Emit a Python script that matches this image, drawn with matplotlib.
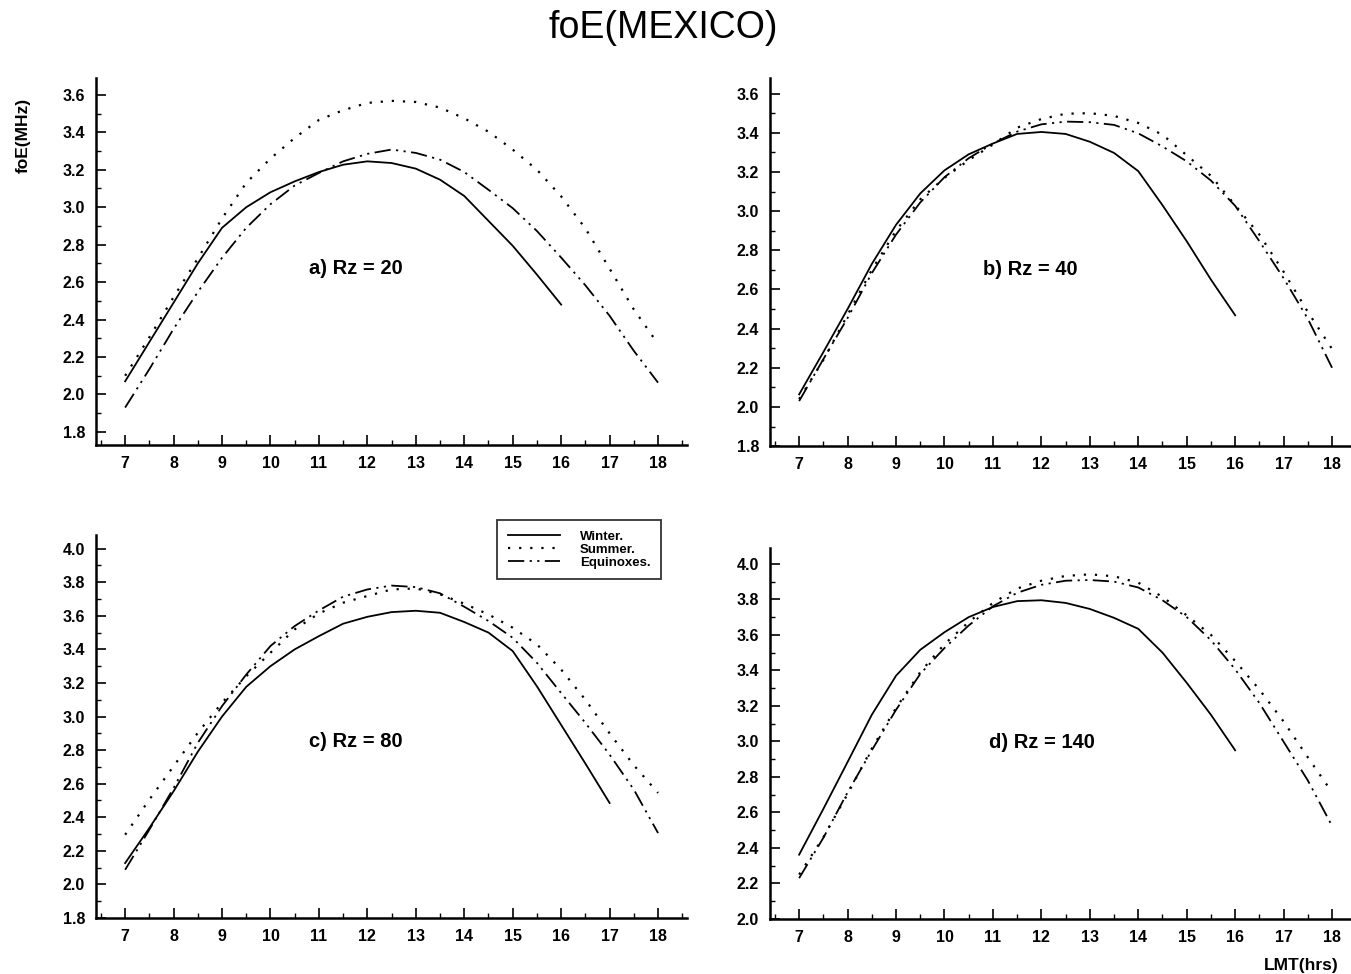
import matplotlib
matplotlib.use('Agg')
import matplotlib.pyplot as plt
from matplotlib.ticker import MultipleLocator, FormatStrFormatter
from matplotlib.lines import Line2D

plt.rcParams['font.family'] = ['Liberation Sans', 'DejaVu Sans']

# --- DATA (every half hour) ---
hours = [7, 7.5, 8, 8.5, 9, 9.5, 10, 10.5, 11, 11.5, 12, 12.5,
         13, 13.5, 14, 14.5, 15, 15.5, 16, 16.5, 17, 17.5, 18]
hour_ticks = [7, 8, 9, 10, 11, 12, 13, 14, 15, 16, 17, 18]

# a) Rz = 20
a_winter = [2.07, 2.28, 2.49, 2.70, 2.89, 3.0, 3.08, 3.138, 3.188, 3.227,
            3.245, 3.236, 3.206, 3.147, 3.06, 2.927, 2.794, 2.64, 2.48]
a_summer = [2.10, 2.305, 2.52, 2.726, 2.94, 3.13, 3.26, 3.37, 3.466, 3.518,
            3.557, 3.568, 3.562, 3.532, 3.475, 3.403, 3.308, 3.20, 3.058,
            2.887, 2.672, 2.454, 2.27]
a_equinox = [1.93, 2.135, 2.35, 2.547, 2.73, 2.89, 3.016, 3.116, 3.183, 3.245,
             3.285, 3.308, 3.29, 3.254, 3.188, 3.093, 2.995, 2.873, 2.731,
             2.583, 2.42, 2.233, 2.063]

# b) Rz = 40
b_winter = [2.064, 2.28, 2.50, 2.73, 2.93, 3.09, 3.208, 3.29, 3.345, 3.394,
            3.404, 3.394, 3.354, 3.297, 3.204, 3.03, 2.846, 2.65, 2.468]
b_summer = [2.04, 2.24, 2.47, 2.70, 2.90, 3.06, 3.17, 3.26, 3.34, 3.426,
            3.47, 3.497, 3.50, 3.486, 3.45, 3.39, 3.285, 3.18, 3.03,
            2.88, 2.69, 2.485, 2.296]
b_equinox = [2.03, 2.244, 2.454, 2.683, 2.88, 3.044, 3.173, 3.27, 3.345, 3.406,
             3.443, 3.457, 3.454, 3.44, 3.397, 3.33, 3.254, 3.156, 3.027,
             2.846, 2.657, 2.45, 2.20]

# c) Rz = 80
c_winter = [2.127, 2.336, 2.555, 2.79, 3.00, 3.177, 3.30, 3.40, 3.479, 3.553,
            3.594, 3.622, 3.63, 3.618, 3.563, 3.50, 3.39, 3.18, 2.95,
            2.72, 2.485]
c_summer = [2.296, 2.505, 2.704, 2.903, 3.082, 3.24, 3.38, 3.519, 3.614, 3.678,
            3.718, 3.757, 3.763, 3.728, 3.672, 3.608, 3.529, 3.43, 3.28,
            3.10, 2.90, 2.71, 2.545]
c_equinox = [2.087, 2.326, 2.574, 2.843, 3.062, 3.25, 3.42, 3.539, 3.632, 3.714,
             3.757, 3.78, 3.771, 3.734, 3.654, 3.569, 3.469, 3.32, 3.14,
             2.962, 2.773, 2.565, 2.306]

# d) Rz = 140
d_winter = [2.362, 2.62, 2.884, 3.15, 3.37, 3.516, 3.615, 3.70, 3.757, 3.79,
            3.795, 3.78, 3.746, 3.696, 3.634, 3.50, 3.33, 3.15, 2.95]
d_summer = [2.25, 2.46, 2.704, 2.96, 3.188, 3.39, 3.548, 3.672, 3.78, 3.861,
            3.905, 3.932, 3.941, 3.93, 3.894, 3.814, 3.71, 3.60, 3.453,
            3.292, 3.112, 2.91, 2.713]
d_equinox = [2.23, 2.457, 2.713, 2.95, 3.178, 3.38, 3.526, 3.653, 3.761, 3.837,
             3.882, 3.905, 3.909, 3.90, 3.867, 3.795, 3.70, 3.57, 3.406,
             3.216, 2.998, 2.78, 2.524]

panel_labels = ['a) Rz = 20', 'b) Rz = 40', 'c) Rz = 80', 'd) Rz = 140']
season_labels = ['Winter.', 'Summer.', 'Equinoxes.']

# --- STYLE ---
LS_SOLID = '-'
LS_DOT = (0, (1, 4))
LS_DDOT = (0, (9, 3, 1.2, 3, 1.2, 3))

fig = plt.figure(figsize=(13.51, 9.74), dpi=100)

panels = [
    # rect, ylim, ytick range, label pos, data
    ([0.0711, 0.5431, 0.4375, 0.3768], (1.73, 3.69), (1.8, 3.6), (0.44, 0.48), (a_winter, a_summer, a_equinox)),
    ([0.570, 0.542, 0.4375, 0.378], (1.80, 3.68), (1.8, 3.6), (0.44, 0.48), (b_winter, b_summer, b_equinox)),
    ([0.0711, 0.0575, 0.4375, 0.393], (1.80, 4.08), (1.8, 4.0), (0.44, 0.46), (c_winter, c_summer, c_equinox)),
    ([0.570, 0.0565, 0.4375, 0.381], (2.00, 4.09), (2.0, 4.0), (0.46, 0.476), (d_winter, d_summer, d_equinox)),
]

for i, (rect, ylim, yr, lpos, data) in enumerate(panels):
    ax = fig.add_axes(rect)
    winter, summer, equinox = data
    ax.plot(hours[:len(winter)], winter, color='black', lw=1.3, ls=LS_SOLID)
    ax.plot(hours[:len(summer)], summer, color='black', lw=1.6, ls=LS_DOT)
    ax.plot(hours[:len(equinox)], equinox, color='black', lw=1.3, ls=LS_DDOT)

    ax.set_xlim(6.4, 18.6)
    ax.set_ylim(*ylim)
    ax.spines['top'].set_visible(False)
    ax.spines['right'].set_visible(False)
    ax.spines['left'].set_linewidth(1.8)
    ax.spines['bottom'].set_linewidth(1.8)

    ax.set_xticks(hour_ticks)
    ax.xaxis.set_minor_locator(MultipleLocator(0.5))
    n = int(round((yr[1] - yr[0]) / 0.2)) + 1
    ax.set_yticks([yr[0] + 0.2 * k for k in range(n)])
    ax.yaxis.set_minor_locator(MultipleLocator(0.1))
    ax.yaxis.set_major_formatter(FormatStrFormatter('%.1f'))
    ax.tick_params(which='major', direction='in', length=7, width=1.2,
                   labelsize=11.5, pad=8)
    ax.tick_params(which='minor', direction='in', length=3.5, width=1.0)
    for lab in ax.get_xticklabels() + ax.get_yticklabels():
        lab.set_fontweight('bold')

    ax.text(lpos[0], lpos[1], panel_labels[i], transform=ax.transAxes,
            ha='center', va='center', fontsize=14.5, fontweight='bold')

# legend inside panel c
handles = [
    Line2D([], [], color='black', lw=1.3, ls=LS_SOLID),
    Line2D([], [], color='black', lw=1.6, ls=LS_DOT),
    Line2D([], [], color='black', lw=1.3, ls=LS_DDOT),
]
leg = fig.legend(handles, season_labels, loc='upper left',
                 bbox_to_anchor=(497 / 1351, 1 - 520 / 974),
                 prop={'weight': 'bold', 'size': 9.5}, frameon=True,
                 fancybox=False, handlelength=4.0, handletextpad=1.5,
                 borderpad=0.8, labelspacing=0.05, borderaxespad=0)
leg.get_frame().set_edgecolor('black')
leg.get_frame().set_linewidth(1.3)

fig.text(0.491, 0.971, 'foE(MEXICO)', ha='center', va='center', fontsize=27)
fig.text(0.017, 0.861, 'foE(MHz)', rotation=90, ha='center', va='center',
         fontsize=12.5, fontweight='bold')
fig.text(0.963, 0.009, 'LMT(hrs)', ha='center', va='center',
         fontsize=12.5, fontweight='bold')

fig.savefig('out.png', dpi=100)
